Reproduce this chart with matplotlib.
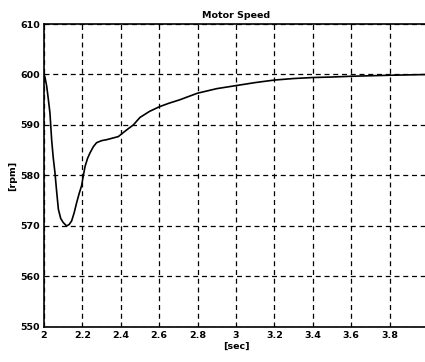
import numpy as np
import matplotlib
matplotlib.use("Agg")
import matplotlib.pyplot as plt

# motor speed
t = [2.0, 2.005, 2.014, 2.022, 2.031, 2.04, 2.048, 2.057, 2.066, 2.075, 2.087,
     2.10, 2.118, 2.131, 2.144, 2.157, 2.17, 2.183, 2.196, 2.205, 2.214, 2.227,
     2.24, 2.257, 2.274, 2.30, 2.327, 2.357, 2.387, 2.40, 2.413, 2.44, 2.465,
     2.5, 2.55, 2.6, 2.65, 2.708, 2.75, 2.8, 2.9, 3.0, 3.1, 3.2, 3.3, 3.4,
     3.5, 3.6, 3.7, 3.8, 4.0]
rpm = [600.0, 599.5, 597.7, 595.3, 592.4, 587.0, 583.6, 580.6, 576.8, 573.3,
       571.5, 570.7, 570.0, 570.3, 571.0, 572.6, 574.6, 576.4, 578.0, 580.0,
       581.8, 583.4, 584.5, 585.7, 586.5, 586.9, 587.1, 587.4, 587.7, 588.1,
       588.5, 589.3, 590.0, 591.5, 592.7, 593.6, 594.3, 595.0, 595.6, 596.3,
       597.2, 597.8, 598.4, 598.9, 599.2, 599.4, 599.5, 599.65, 599.75, 599.85,
       600.0]
xticks = [2, 2.2, 2.4, 2.6, 2.8, 3, 3.2, 3.4, 3.6, 3.8, 4]
yticks = [550, 560, 570, 580, 590, 600, 610]

plt.rcParams["font.family"] = ["DejaVu Sans"]
plt.rcParams["font.weight"] = "bold"

fig = plt.figure(figsize=(4.25, 3.62), dpi=100)
ax = fig.add_axes([0.1035, 0.0967, 0.9035, 0.837])

ax.plot(t, rpm, color="black", lw=1.2)
ax.set_xlim(2, 4)
ax.set_ylim(550, 610)
ax.set_xticks(xticks)
ax.set_xticklabels([f"{v:g}" for v in xticks])
ax.set_yticks(yticks)
ax.grid(True, color="black", ls=(0, (4, 3)), lw=0.9)
ax.tick_params(direction="in", length=0, labelsize=6.8, pad=3)
for s in ax.spines.values():
    s.set_linewidth(1.2)

ax.set_title("Motor Speed", fontsize=6.8, fontweight="bold", pad=4)
ax.set_xlabel("[sec]", fontsize=6.8, fontweight="bold", labelpad=1)
ax.set_ylabel("[rpm]", fontsize=6.8, fontweight="bold", labelpad=2)

fig.savefig("out.png", dpi=100)
